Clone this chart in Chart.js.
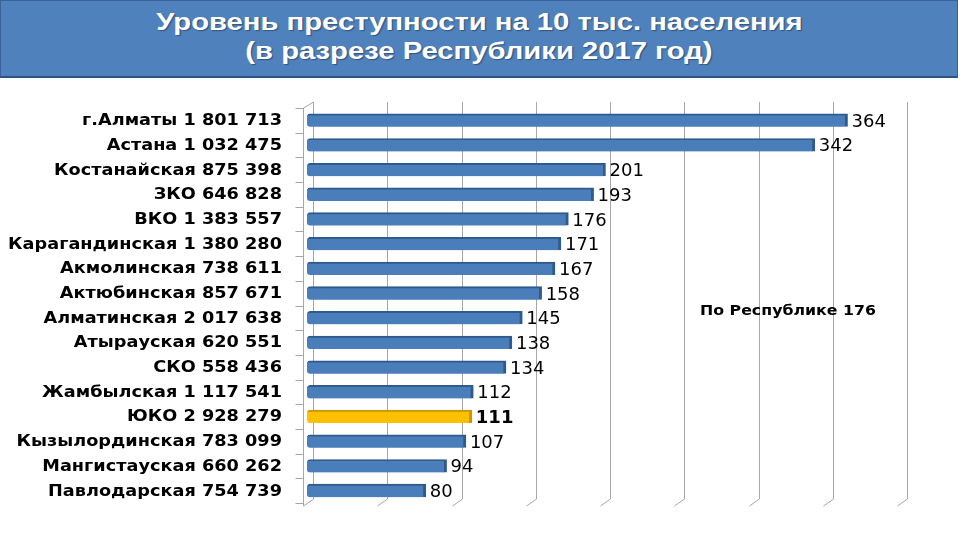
<!DOCTYPE html>
<html>
<head>
<meta charset="utf-8">
<script src="https://cdn.jsdelivr.net/npm/chart.js@4"></script>
<style>
    html, body { margin: 0; padding: 0; background: #fff; }
    #wrap { position: relative; width: 960px; height: 540px; overflow: hidden; }
    #title {
        position: absolute; left: 0; top: 0; width: 956px;
        background: #4f81bd; border: 1px solid #3a6294; border-bottom: 2px solid #2f5381;
        color: #fff; font-family: "Liberation Sans", Arial, sans-serif; font-weight: bold;
        font-size: 23px; line-height: 29px; text-align: center; padding-top: 7px;
        height: 68px; text-shadow: 1px 1px 1px rgba(0,0,0,0.35);
    }
    #title span { display: inline-block; transform: scaleX(1.27); }
    #note {
        position: absolute; left: 700px; top: 302px; transform: scaleX(1.17); transform-origin: left center;
        font-family: "DejaVu Sans", sans-serif; font-weight: bold; font-size: 13.5px; color: #000;
    }
    canvas { position: absolute; left: 0; top: 0; }
</style>
</head>
<body>
<div id="wrap">
    <canvas id="chart" width="960" height="540"></canvas>
    <div id="title"><span>Уровень преступности на 10 тыс. населения</span><br><span>(в разрезе Республики 2017 год)</span></div>
    <div id="note">По Республике 176</div>
</div>
<script>
//
// Data
//

const regions = [
    'г.Алматы 1 801 713',
    'Астана 1 032 475',
    'Костанайская 875 398',
    'ЗКО 646 828',
    'ВКО 1 383 557',
    'Карагандинская 1 380 280',
    'Акмолинская 738 611',
    'Актюбинская 857 671',
    'Алматинская 2 017 638',
    'Атырауская 620 551',
    'СКО 558 436',
    'Жамбылская 1 117 541',
    'ЮКО 2 928 279',
    'Кызылординская 783 099',
    'Мангистауская 660 262',
    'Павлодарская 754 739',
]
const crimeRate = [ 364, 342, 201, 193, 176, 171, 167, 158, 145, 138, 134, 112, 111, 107, 94, 80 ]
const highlighted = 'ЮКО 2 928 279'
const xTicks = [ 0, 50, 100, 150, 200, 250, 300, 350, 400 ]

const BLUE = '#4a7ebb'
const BLUE_EDGE = '#2f5a8e'
const GOLD = '#ffc000'
const GOLD_EDGE = '#c99500'
const GRID = '#a6a6a6'

//
// Plugins
//

// back wall grid lines with a small slanted foot, the left axis and the texts
const wallPlugin = {
    id: 'wall',
    beforeDatasetsDraw (chart) {
        const { ctx, chartArea } = chart
        const x = chart.scales.x
        const y = chart.scales.y
        const top = chartArea.top - 6
        const floor = chartArea.bottom - 4
        ctx.save()
        ctx.strokeStyle = GRID
        ctx.lineWidth = 1
        for (const v of xTicks) {
            const px = Math.round(x.getPixelForValue(v)) + 0.5
            ctx.beginPath()
            ctx.moveTo(px + 6, top)
            ctx.lineTo(px + 6, floor)
            ctx.lineTo(px - 4, floor + 7)
            ctx.stroke()
        }
        // axis line and category ticks
        const ax = chartArea.left - 3.5
        const band = (y.getPixelForValue(1) - y.getPixelForValue(0))
        ctx.beginPath()
        ctx.moveTo(ax + 10, top)
        ctx.lineTo(ax, top + 6)
        ctx.lineTo(ax, floor + 7)
        for (let i = 0; i <= regions.length; i++) {
            const py = Math.round(y.getPixelForValue(i) - band / 2) + 0.5
            ctx.moveTo(ax - 8, py)
            ctx.lineTo(ax, py)
        }
        ctx.stroke()

        // category labels, a little stretched like the slide
        ctx.fillStyle = '#000'
        ctx.textAlign = 'right'
        ctx.textBaseline = 'middle'
        ctx.font = 'bold 15px "DejaVu Sans", sans-serif'
        regions.forEach((label, i) => {
            ctx.save()
            ctx.translate(chartArea.left - 25, y.getPixelForValue(i) + 1)
            ctx.scale(1.18, 1)
            ctx.fillText(label, 0, 0)
            ctx.restore()
        })
        ctx.restore()
    },
    afterDatasetsDraw (chart) {
        const { ctx } = chart
        const meta = chart.getDatasetMeta(0)
        ctx.save()
        ctx.fillStyle = '#000'
        ctx.textBaseline = 'middle'
        ctx.textAlign = 'left'
        meta.data.forEach((bar, i) => {
            const bold = regions[i] === highlighted
            ctx.font = (bold ? 'bold ' : '') + '17px "DejaVu Sans", sans-serif'
            ctx.save()
            ctx.translate(bar.x + 4, bar.y + 2)
            ctx.scale(1.06, 1)
            ctx.fillText(String(crimeRate[i]), 0, 0)
            ctx.restore()
        })
        ctx.restore()
    },
}

//
// Chart
//

const ctx = document.getElementById('chart').getContext('2d')
new Chart(ctx, {
    type: 'bar',
    data: {
        labels: regions,
        datasets: [
            {
                data: crimeRate,
                backgroundColor: regions.map((r) => (r === highlighted ? GOLD : BLUE)),
                borderColor: regions.map((r) => (r === highlighted ? GOLD_EDGE : BLUE_EDGE)),
                borderWidth: { top: 2, right: 3, bottom: 0, left: 0 },
                borderSkipped: false,
                borderRadius: { topLeft: 3, bottomLeft: 3 },
                barThickness: 13,
            },
        ],
    },
    options: {
        indexAxis: 'y',
        responsive: false,
        animation: false,
        layout: { padding: { top: 108, bottom: 37, right: 59, left: 0 } },
        plugins: {
            legend: { display: false },
            tooltip: { enabled: false },
        },
        scales: {
            x: {
                display: false,
                min: 0,
                max: 400,
            },
            y: {
                afterFit (scale) { scale.width = 307 },
                grid: { display: false },
                border: { display: false },
                ticks: { display: false },
            },
        },
    },
    plugins: [ wallPlugin ],
})
</script>
</body>
</html>
